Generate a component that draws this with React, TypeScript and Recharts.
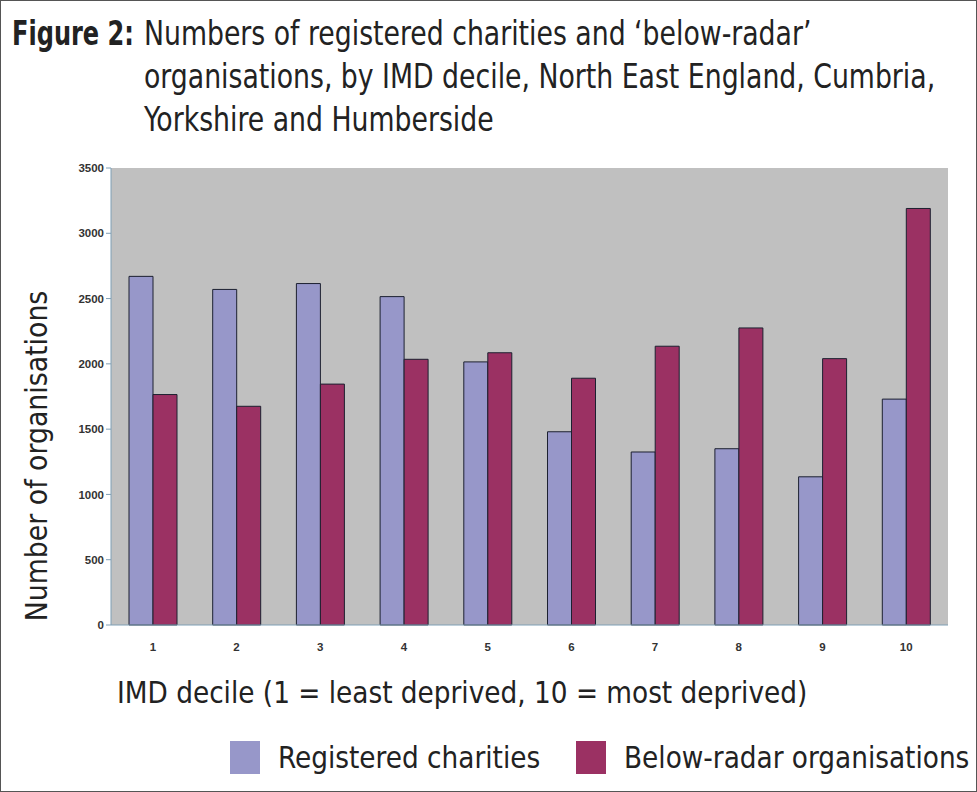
import { BarChart, Bar, XAxis, YAxis, CartesianGrid } from 'recharts';

const deciles = ['1', '2', '3', '4', '5', '6', '7', '8', '9', '10'];
const registeredCharities = [2670, 2570, 2615, 2515, 2015, 1480, 1325, 1350, 1135, 1730];
const belowRadar = [1765, 1675, 1845, 2035, 2085, 1890, 2135, 2275, 2040, 3190];
const yTicks = [0, 500, 1000, 1500, 2000, 2500, 3000, 3500];

const seriesInfo = [
  { key: 'registered', name: 'Registered charities', color: '#9797c9' },
  { key: 'belowRadar', name: 'Below-radar organisations', color: '#9b3163' },
];

const titleLines = [
  'Numbers of registered charities and ‘below-radar’',
  'organisations, by IMD decile, North East England, Cumbria,',
  'Yorkshire and Humberside',
];

const chartData = deciles.map((d, i) => ({
  decile: d,
  registered: registeredCharities[i],
  belowRadar: belowRadar[i],
}));

const textFont = "'DejaVu Sans Condensed', 'DejaVu Sans', sans-serif";
const tickFont = "'Liberation Sans', Arial, sans-serif";

// the reference uses a much narrower face than anything installed, so squeeze it
const narrow = (sx: number): React.CSSProperties => ({
  whiteSpace: 'nowrap',
  transform: `scaleX(${sx})`,
  transformOrigin: 'left center',
});

export default function App() {
  return (
    <div
      style={{
        position: 'absolute',
        left: 0,
        top: 0,
        width: 977,
        height: 792,
        boxSizing: 'border-box',
        border: '1px solid #555',
        background: '#fff',
        overflow: 'hidden',
      }}
    >
      <div
        style={{
          position: 'absolute',
          left: 11,
          top: 11,
          fontFamily: textFont,
          fontSize: 33,
          lineHeight: '43px',
          color: '#222',
          fontWeight: 'bold',
          ...narrow(0.81),
        }}
      >
        Figure 2:
      </div>
      <div
        style={{
          position: 'absolute',
          left: 143,
          top: 11,
          fontFamily: textFont,
          fontSize: 33,
          lineHeight: '43px',
          color: '#222',
        }}
      >
        {titleLines.map((t) => (
          <div key={t} style={narrow(0.9)}>
            {t}
          </div>
        ))}
      </div>

      <div
        style={{
          position: 'absolute',
          left: 35,
          top: 455,
          transform: 'translate(-50%, -50%) rotate(-90deg) scaleX(0.96)',
          whiteSpace: 'nowrap',
          fontFamily: textFont,
          fontSize: 31,
          color: '#222',
        }}
      >
        Number of organisations
      </div>

      <div
        style={{
          position: 'absolute',
          left: 116,
          top: 673,
          fontFamily: textFont,
          fontSize: 31,
          color: '#222',
          ...narrow(0.945),
        }}
      >
        IMD decile (1 = least deprived, 10 = most deprived)
      </div>

      <div
        style={{
          position: 'absolute',
          left: 229,
          top: 738,
          display: 'flex',
          alignItems: 'center',
          fontFamily: textFont,
          fontSize: 31,
          color: '#222',
        }}
      >
        {seriesInfo.map((s, i) => (
          <div key={s.key} style={{ display: 'flex', alignItems: 'center', width: i === 0 ? 346 : 400 }}>
            <span style={{ width: 30, height: 33, background: s.color, display: 'inline-block', marginRight: 18, flex: 'none' }} />
            <span style={narrow(0.945)}>{s.name}</span>
          </div>
        ))}
      </div>

      <div style={{ position: 'absolute', left: -1, top: -1 }}>
        <BarChart
          width={977}
          height={792}
          data={chartData}
          margin={{ top: 168, right: 29, bottom: 137, left: 51 }}
          barGap={0}
          barSize={24}
        >
          <CartesianGrid fill="#c0c0c0" stroke="none" horizontal={false} vertical={false} />
          <XAxis
            dataKey="decile"
            height={30}
            axisLine={{ stroke: '#7f9fb5' }}
            tickLine={false}
            tick={{ fill: '#333', fontSize: 11.5, fontWeight: 'bold', fontFamily: tickFont }}
            tickMargin={12}
          />
          <YAxis
            width={60}
            domain={[0, 3500]}
            ticks={yTicks}
            interval={0}
            axisLine={{ stroke: '#7f9fb5' }}
            tickLine={{ stroke: '#7f9fb5' }}
            tickSize={5}
            tick={{ fill: '#333', fontSize: 11.5, fontWeight: 'bold', fontFamily: tickFont }}
          />
          {seriesInfo.map((s) => (
            <Bar
              key={s.key}
              dataKey={s.key}
              name={s.name}
              fill={s.color}
              stroke="#1c2030"
              strokeWidth={1}
              isAnimationActive={false}
            />
          ))}
        </BarChart>
      </div>
    </div>
  );
}
